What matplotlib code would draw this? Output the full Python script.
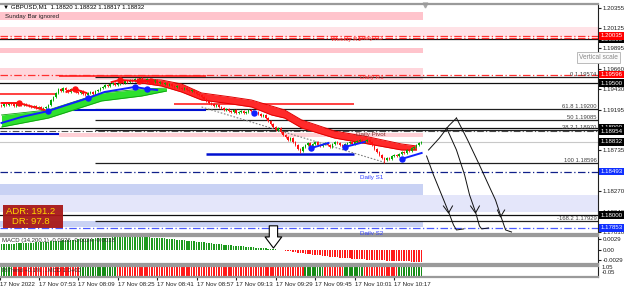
import matplotlib
matplotlib.use('Agg')
import matplotlib.pyplot as plt
import matplotlib.transforms as mtransforms
from matplotlib.patches import Rectangle
import numpy as np

plt.rcParams['font.family'] = ['Liberation Sans', 'DejaVu Sans']

# ---------------------------------------------------------------- data --
# GBPUSD M1, 17 Nov 2022, one bar per minute, 07:38 .. 10:28 (minute 0 = 07:53)
FIRST_MIN = -15
OPEN0 = 1.19250
close = [
    1.19239, 1.19262, 1.19250, 1.19273, 1.19262, 1.19239, 1.19262, 1.19273, 1.19250, 1.19262,
    1.19250, 1.19239, 1.19228, 1.19239, 1.19216, 1.19228, 1.19205, 1.19216, 1.19228, 1.19250,
    1.19307, 1.19341, 1.19387, 1.19432, 1.19409, 1.19443, 1.19421, 1.19398, 1.19432, 1.19421,
    1.19398, 1.19387, 1.19409, 1.19375, 1.19364, 1.19387, 1.19398, 1.19375, 1.19409, 1.19421,
    1.19443, 1.19455, 1.19477, 1.19466, 1.19489, 1.19500, 1.19477, 1.19489, 1.19511, 1.19500,
    1.19523, 1.19511, 1.19534, 1.19523, 1.19546, 1.19534, 1.19557, 1.19534, 1.19523, 1.19546,
    1.19523, 1.19511, 1.19534, 1.19500, 1.19511, 1.19489, 1.19500, 1.19477, 1.19489, 1.19466,
    1.19455, 1.19466, 1.19443, 1.19432, 1.19443, 1.19421, 1.19409, 1.19421, 1.19398, 1.19375,
    1.19364, 1.19341, 1.19318, 1.19296, 1.19273, 1.19262, 1.19239, 1.19250, 1.19228, 1.19216,
    1.19194, 1.19205, 1.19182, 1.19171, 1.19194, 1.19159, 1.19171, 1.19182, 1.19159, 1.19171,
    1.19194, 1.19182, 1.19159, 1.19171, 1.19148, 1.19125, 1.19137, 1.19102, 1.19068, 1.19034,
    1.19000, 1.18966, 1.18989, 1.18943, 1.18909, 1.18887, 1.18853, 1.18875, 1.18830, 1.18796,
    1.18750, 1.18728, 1.18773, 1.18796, 1.18819, 1.18785, 1.18807, 1.18830, 1.18796, 1.18785,
    1.18807, 1.18819, 1.18796, 1.18773, 1.18807, 1.18830, 1.18819, 1.18796, 1.18785, 1.18807,
    1.18819, 1.18830, 1.18807, 1.18830, 1.18841, 1.18853, 1.18830, 1.18841, 1.18853, 1.18830,
    1.18796, 1.18750, 1.18716, 1.18682, 1.18648, 1.18625, 1.18648, 1.18637, 1.18671, 1.18682,
    1.18671, 1.18694, 1.18716, 1.18705, 1.18739, 1.18728, 1.18762, 1.18773, 1.18796, 1.18819,
    1.18832,
]
# bars whose wick reaches the swing extremes
wick_extremes = {56: ('high', 1.19574), 121: ('low', 1.18701), 155: ('low', 1.18596)}

macd = [
    0.00150, 0.00152, 0.00155, 0.00158, 0.00160, 0.00163, 0.00166, 0.00170, 0.00173, 0.00176,
    0.00180, 0.00184, 0.00188, 0.00192, 0.00196, 0.00200, 0.00204, 0.00208, 0.00212, 0.00216,
    0.00222, 0.00228, 0.00234, 0.00240, 0.00246, 0.00251, 0.00256, 0.00261, 0.00266, 0.00270,
    0.00274, 0.00278, 0.00282, 0.00286, 0.00290, 0.00294, 0.00298, 0.00302, 0.00306, 0.00310,
    0.00314, 0.00318, 0.00322, 0.00326, 0.00330, 0.00333, 0.00336, 0.00338, 0.00340, 0.00342,
    0.00344, 0.00345, 0.00346, 0.00346, 0.00346, 0.00345, 0.00344, 0.00342, 0.00340, 0.00337,
    0.00334, 0.00330, 0.00326, 0.00322, 0.00317, 0.00312, 0.00306, 0.00300, 0.00294, 0.00288,
    0.00281, 0.00274, 0.00267, 0.00260, 0.00253, 0.00246, 0.00238, 0.00231, 0.00224, 0.00216,
    0.00209, 0.00201, 0.00194, 0.00186, 0.00179, 0.00171, 0.00164, 0.00157, 0.00150, 0.00143,
    0.00136, 0.00129, 0.00122, 0.00115, 0.00108, 0.00101, 0.00095, 0.00089, 0.00083, 0.00077,
    0.00071, 0.00065, 0.00059, 0.00053, 0.00047, 0.00041, 0.00035, 0.00029, 0.00023, 0.00017,
    0.00011, 0.00005, -0.00005, -0.00015, -0.00025, -0.00035, -0.00045, -0.00055, -0.00065, -0.00075,
    -0.00085, -0.00094, -0.00103, -0.00112, -0.00121, -0.00130, -0.00139, -0.00148, -0.00156, -0.00164,
    -0.00172, -0.00180, -0.00188, -0.00196, -0.00203, -0.00210, -0.00217, -0.00224, -0.00230, -0.00236,
    -0.00242, -0.00247, -0.00252, -0.00257, -0.00262, -0.00266, -0.00270, -0.00274, -0.00278, -0.00282,
    -0.00286, -0.00290, -0.00294, -0.00297, -0.00300, -0.00303, -0.00306, -0.00309, -0.00312, -0.00315,
    -0.00318, -0.00321, -0.00324, -0.00326, -0.00328, -0.00330, -0.00332, -0.00333, -0.00334, -0.00335,
    -0.00336,
]
# trend strip: (direction, number of bars)
trend_runs = [(1, 5), (-1, 27), (1, 15), (-1, 76), (1, 8), (-1, 8), (1, 8), (-1, 14), (1, 10)]

# moving-average overlays (minute, price)
blue_ma_m = [-15, -6.9, 4.0, 11.3, 20.2, 26.7, 38.9, 44.1, 48.0]
blue_ma_p = [1.19046, 1.19114, 1.19182, 1.19250, 1.19330, 1.19398, 1.19455, 1.19432, 1.19421]
blue_segs = [([110.5, 117.4], [1.18762, 1.18819]),
             ([123.9, 132.0], [1.18773, 1.18830]),
             ([147.0, 155.1], [1.18637, 1.18705])]
blue_dot_m = [4.0, 20.2, 38.9, 44.1, 87.4, 110.5, 123.9, 147.0]
blue_dot_p = [1.19182, 1.19330, 1.19455, 1.19432, 1.19159, 1.18762, 1.18773, 1.18637]
red_segs = [([-15, -8.1, 2.4], [1.19273, 1.19273, 1.19194]),
            ([11.3, 14.6, 19.4], [1.19398, 1.19432, 1.19387]),
            ([29.6, 32.8, 40.5, 45.7], [1.19511, 1.19534, 1.19523, 1.19523])]
red_dot_m = [-8.1, 14.6, 32.8, 40.5, 45.7]
red_dot_p = [1.19273, 1.19432, 1.19534, 1.19523, 1.19523]
green_rib_m = [-15, 4.0, 25.5, 41.7, 51.8]
green_rib_hi = [1.19137, 1.19194, 1.19387, 1.19432, 1.19443]
green_rib_lo = [1.19000, 1.19102, 1.19296, 1.19352, 1.19409]
red_rib_m = [41.7, 49.8, 57.9, 66.0, 78.1, 86.2, 94.3, 99.6, 106.5, 119.8, 133.6, 147.0, 153.0]
red_rib_hi = [1.19546, 1.19534, 1.19489, 1.19387, 1.19341, 1.19307, 1.19239, 1.19194, 1.19080,
              1.18955, 1.18887, 1.18807, 1.18785]
red_rib_lo = [1.19500, 1.19466, 1.19398, 1.19307, 1.19262, 1.19228, 1.19137, 1.19102, 1.18989,
              1.18875, 1.18807, 1.18739, 1.18739]

# horizontal objects
black_levels = [1.20000, 1.19500, 1.18990, 1.18000]
fib_levels = [1.19574, 1.19200, 1.19085, 1.18970, 1.18596, 1.17929]
fib_names = ['0', '61.8', '50', '38.2', '100', '-168.2']
FIB_START = 22.7
pivot_levels = [1.20035, 1.20015, 1.19596, 1.18493, 1.17853]
pivot_colors = ['#ff3030', '#ff3030', '#ff3030', '#10208a', '#4a5aff']
pivot_labels = [('Weekly R1', 118.6, 1.20020, '#ff3030'), ('Daily R2', 129.6, 1.20035, '#ff3030'),
                ('Daily R1', 130.0, 1.19596, '#ff3030'), ('Daily Pivot', 128.7, 1.18945, '#803030'),
                ('Daily S1', 130.0, 1.18450, '#3040ff'), ('Daily S2', 130.0, 1.17820, '#3040ff')]
# zones: (top, bottom, colour, start minute, runs to right edge?)
zones = [(1.20307, 1.20216, '#ffc4cc', -15.6, False),
         (1.20136, 1.20023, '#ffe2e6', -15.6, True),
         (1.19898, 1.19841, '#ffc4cc', -15.6, False),
         (1.19671, 1.19534, '#ffd6dc', -15.6, False),
         (1.18932, 1.18887, '#ffd0d6', 8.1, False),
         (1.18353, 1.18228, '#c9d2f4', -15.6, False),
         (1.18228, 1.18035, '#e4e6fa', -15.6, True),
         (1.17932, 1.17864, '#c9d2f4', -15.6, False)]
# short solid lines: (price, from minute, to minute, colour, width)
segments = [(1.19370, -15.6, 7.3, '#ff2020', 1.2), (1.19580, 8.1, 68.0, '#ff2020', 1.2),
            (1.19267, 54.7, 127.9, '#ff2020', 1.2), (1.19188, 10.5, 68.0, '#0010d0', 1.5),
            (1.18921, -15.6, 8.1, '#0010d0', 1.5), (1.18699, 67.6, 127.9, '#0010d0', 1.8)]
trend_line_m = [66.0, 140.9]
trend_line_p = [1.19228, 1.18591]
LAST_PRICE = 1.18832
GRAY_DASH = 1.18954

# hand-drawn arrows on the right
sketch_up = ([157.9, 162.3, 166.0, 169.2], [1.18739, 1.18875, 1.19012, 1.19102])
sketch_drops = [
    ([157.1, 159.9, 163.2, 166.0, 168.0, 169.2, 172.1],
     [1.18671, 1.18455, 1.18228, 1.18035, 1.17887, 1.17830, 1.17842]),
    ([165.2, 169.2, 172.5, 174.5, 176.9, 178.5, 179.4, 182.2],
     [1.18989, 1.18739, 1.18455, 1.18228, 1.18035, 1.17876, 1.17842, 1.17853]),
    ([169.2, 173.7, 178.5, 182.2, 185.0, 187.4, 189.1, 191.5],
     [1.19102, 1.18853, 1.18569, 1.18341, 1.18171, 1.17967, 1.17830, 1.17807]),
]
sketch_heads = [([163.9, 166.0, 167.6], [1.18103, 1.18023, 1.18103]),
                ([174.9, 176.9, 178.5], [1.18103, 1.18023, 1.18103]),
                ([185.8, 187.0, 188.7], [1.18057, 1.17978, 1.18057])]

price_ticks = [1.20355, 1.20125, 1.19895, 1.19660, 1.19430, 1.19195, 1.18965,
               1.18735, 1.18505, 1.18270, 1.18040, 1.17810]
price_tags = [(1.20000, '#000000'), (1.20035, '#ff0000'), (1.19596, '#ff0000'),
              (1.19500, '#000000'), (1.18990, '#000000'), (1.18954, '#000000'),
              (1.18832, '#000000'), (1.18493, '#1030ff'), (1.18000, '#000000'),
              (1.17853, '#1030ff')]
time_ticks = [0, 16, 32, 48, 64, 80, 96, 112, 128, 144]
time_labels = ['17 Nov 07:53', '17 Nov 08:09', '17 Nov 08:25', '17 Nov 08:41', '17 Nov 08:57',
               '17 Nov 09:13', '17 Nov 09:29', '17 Nov 09:45', '17 Nov 10:01', '17 Nov 10:17']

XLIM = (-15.6, 226.5)
YLIM = (1.17790, 1.20398)
BAND_END = 155.5
FS = 4.4

# --------------------------------------------------------------- figure --
W, H = 625, 290
fig = plt.figure(figsize=(W / 100, H / 100), dpi=100)


def px_box(x0, y0, x1, y1):
    return [x0 / W, 1 - y1 / H, (x1 - x0) / W, (y1 - y0) / H]


ax = fig.add_axes(px_box(0, 4, 598, 233.5))
axm = fig.add_axes(px_box(0, 235.5, 598, 263.5))
axt = fig.add_axes(px_box(0, 265.5, 598, 276.5))

for a in (ax, axm, axt):
    a.set_xlim(*XLIM)
    a.spines['left'].set_visible(False)
    for s in ('top', 'bottom'):
        a.spines[s].set_color('#9a9a9a')
        a.spines[s].set_linewidth(1.6)
    a.spines['right'].set_color('#202020')
    a.spines['right'].set_linewidth(0.8)
    a.yaxis.tick_right()
    a.tick_params(axis='y', length=2, pad=1.5, labelsize=FS, colors='#202020')
    a.tick_params(axis='x', bottom=False, labelbottom=False)

# ---- main price panel
ax.set_ylim(*YLIM)
ax.set_yticks(price_ticks)
ax.set_yticklabels([f'{p:.5f}' for p in price_ticks])

for top, bot, colr, start, full in zones:
    end = XLIM[1] if full else BAND_END
    ax.fill_between([start, end], bot, top, color=colr, lw=0, zorder=0.5)

ax.axhline(LAST_PRICE, color='#c8c8c8', lw=0.8, zorder=0.8)
for p in black_levels:
    ax.axhline(p, color='#101010', lw=0.9, zorder=1)
ax.axhline(GRAY_DASH, color='#505050', lw=0.8, ls=(0, (6, 2, 1, 2)), zorder=1)
for p, nm in zip(fib_levels, fib_names):
    ax.hlines(p, FIB_START, XLIM[1], color='#202020', lw=0.9, zorder=1)
    ax.text(XLIM[1] - 0.6, p, f'{nm} {p:.5f}', ha='right', va='bottom', fontsize=4.2,
            color='#404040', zorder=5)
for p, colr in zip(pivot_levels, pivot_colors):
    ax.axhline(p, color=colr, lw=0.9, ls=(0, (6, 2, 1, 2)), zorder=1.2)
for txt, m, p, colr in pivot_labels:
    ax.text(m, p, txt, ha='left', va='top', fontsize=4.5, color=colr, zorder=5)
for p, m0, m1, colr, lw in segments:
    ax.hlines(p, m0, m1, color=colr, lw=lw, zorder=1.5)
ax.plot(trend_line_m, trend_line_p, color='#808080', lw=0.8, ls=(0, (1.5, 1.5)), zorder=1.5)

ax.fill_between(green_rib_m, green_rib_lo, green_rib_hi, color='#2ee02e', lw=0, zorder=2)
ax.plot(green_rib_m, green_rib_hi, color='#10a010', lw=0.6, zorder=2)
ax.plot(green_rib_m, green_rib_lo, color='#10a010', lw=0.6, zorder=2)
ax.fill_between(red_rib_m, red_rib_lo, red_rib_hi, color='#ff2a2a', lw=0, zorder=2)
ax.plot(red_rib_m, red_rib_hi, color='#e00000', lw=0.7, zorder=2)
ax.plot(red_rib_m, red_rib_lo, color='#e00000', lw=0.7, zorder=2)

# candles
c = np.array(close)
o = np.r_[OPEN0, c[:-1]]
xb = np.arange(len(c)) + FIRST_MIN
WICK = 0.00008
hi = np.maximum(o, c) + WICK
lo = np.minimum(o, c) - WICK
for i, (kind, val) in wick_extremes.items():
    if kind == 'high':
        hi[i] = val
    else:
        lo[i] = val
col = np.where(c >= o, '#00a800', '#ff1010')
ax.vlines(xb, lo, hi, colors=col, lw=0.6, zorder=3)
ax.bar(xb, np.maximum(np.abs(c - o), 0.00002), bottom=np.minimum(o, c), width=0.62,
       color=col, lw=0, zorder=3)

ax.plot(blue_ma_m, blue_ma_p, color='#1020ff', lw=1.4, zorder=4)
for sm, sp in blue_segs:
    ax.plot(sm, sp, color='#1020ff', lw=1.4, zorder=4)
ax.plot(blue_dot_m, blue_dot_p, 'o', color='#1020ff', ms=3.6, zorder=4)
for sm, sp in red_segs:
    ax.plot(sm, sp, color='#ff1010', lw=1.4, zorder=4)
ax.plot(red_dot_m, red_dot_p, 'o', color='#ff1010', ms=3.6, zorder=4)

# hand-drawn arrows
ax.plot(*sketch_up, color='#101010', lw=0.7, zorder=6)
for sm, sp in sketch_drops:
    ax.plot(sm, sp, color='#101010', lw=0.7, zorder=6)
for sm, sp in sketch_heads:
    ax.plot(sm, sp, color='#101010', lw=0.7, zorder=6)

# price tags on the axis
ytr = mtransforms.blended_transform_factory(ax.transAxes, ax.transData)
for p, colr in price_tags:
    ax.text(1.0 + 2.5 / 598, p, f'{p:.5f}', transform=ytr, ha='left', va='center', fontsize=FS,
            color='white', clip_on=False, zorder=10,
            bbox=dict(boxstyle='square,pad=0.2', fc=colr, ec='none'))

ax.text(0.005, 1 - 2.8 / 229.5, '\u25bc GBPUSD,M1  1.18820 1.18832 1.18817 1.18832',
        transform=ax.transAxes, ha='left', va='center', fontsize=FS, color='#000000', zorder=6)
ax.text(-13.6, 1.20261, 'Sunday Bar ignored', ha='left', va='center', fontsize=FS,
        color='#202020', zorder=6)
xtr = mtransforms.blended_transform_factory(ax.transData, ax.transAxes)
ax.plot([156.3], [0.995], marker='v', color='#a8a8a8', ms=3.5, transform=xtr, clip_on=False)

# ADR box
ax.add_patch(Rectangle((0.005, 0.024), 0.1, 0.1, transform=ax.transAxes, fc='#a81818',
                       ec='none', alpha=0.95, zorder=7))
ax.text(0.052, 0.094, 'ADR: 191.2', transform=ax.transAxes, ha='center', va='center',
        fontsize=6.8, color='#ffd700', zorder=8)
ax.text(0.052, 0.052, 'DR: 97.8', transform=ax.transAxes, ha='center', va='center',
        fontsize=6.8, color='#ffd700', zorder=8)

fig.text(579 / W, 1 - 57.5 / H, 'Vertical scale', ha='left', va='center', fontsize=4.8,
         color='#8a8a8a', zorder=20,
         bbox=dict(boxstyle='square,pad=0.35', fc='#fbfbfb', ec='#b0b0b0', lw=0.6))

# ---- MACD panel
mv = np.array(macd)
axm.set_ylim(-0.00386, 0.00386)
axm.bar(xb, mv, width=0.62, color=np.where(mv >= 0, '#1e9a1e', '#ff1a1a'), lw=0)
axm.set_yticks([0.0029, 0.0, -0.0029])
axm.set_yticklabels(['0.0029', '0.00', '-0.0029'])
axm.text(0.003, 0.82, 'MACD (34,200,1) -0.0026 -0.0024 -0.0018', transform=axm.transAxes,
         ha='left', va='center', fontsize=4.3, color='#303030', zorder=5)
axm.annotate('', xy=(95.1, 0.0004), xytext=(0, 16), textcoords='offset points',
             annotation_clip=False, zorder=12,
             arrowprops=dict(arrowstyle='simple,head_length=0.8,head_width=1.2,tail_width=0.6',
                             fc='white', ec='black', lw=0.8, mutation_scale=10,
                             shrinkA=0, shrinkB=0))

# ---- trend strip
states = np.concatenate([[s] * n for s, n in trend_runs])
axt.set_ylim(-0.05, 1.05)
axt.bar(xb, np.ones(len(states)), width=0.65,
        color=np.where(states > 0, '#168c16', '#ff1a1a'), lw=0)
axt.set_yticks([])
axt.text(1.0 + 4 / 598, 0.78, '1.05', transform=axt.transAxes, fontsize=4.2, va='center',
         color='#202020')
axt.text(1.0 + 4 / 598, 0.38, '-0.05', transform=axt.transAxes, fontsize=4.2, va='center',
         color='#202020')
axt.text(0.003, 0.5, 'RiTrend +0.1% ...MCD 1.0+00', transform=axt.transAxes, ha='left',
         va='center', fontsize=4.2, color='#303030')

axt.tick_params(axis='x', bottom=True, labelbottom=True, length=2.5, pad=1.8,
                labelsize=FS, colors='#202020')
axt.set_xticks([XLIM[0]] + time_ticks)
axt.set_xticklabels(['17 Nov 2022'] + time_labels)
for lbl in axt.get_xticklabels():
    lbl.set_ha('left')

fig.savefig('out.png', dpi=100)
